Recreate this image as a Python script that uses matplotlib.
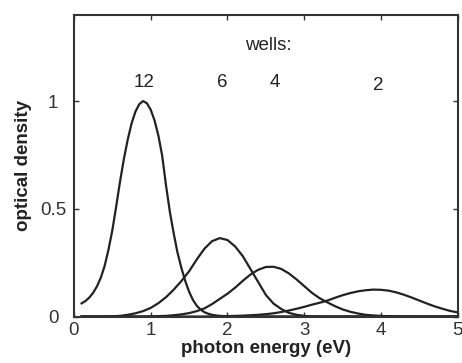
import matplotlib
matplotlib.use("Agg")
import matplotlib.pyplot as plt

plt.rcParams['font.family'] = ['Liberation Sans', 'DejaVu Sans']

# photon energy grid for the 12-well curve (eV)
energy_12 = [0.10, 0.15, 0.20, 0.25, 0.30, 0.35, 0.40, 0.45, 0.50, 0.55,
             0.60, 0.65, 0.70, 0.75, 0.80, 0.85, 0.90, 0.95, 1.00, 1.05,
             1.10, 1.15, 1.20, 1.25, 1.30, 1.35, 1.40, 1.45, 1.50, 1.55,
             1.60, 1.65, 1.70, 1.75, 1.80, 1.85, 1.90, 1.95, 2.00, 5.00]
od_12 = [0.061, 0.072, 0.088, 0.11, 0.14, 0.18, 0.235, 0.31, 0.40, 0.51,
         0.625, 0.73, 0.82, 0.895, 0.95, 0.985, 1.0, 0.99, 0.96, 0.91,
         0.84, 0.745, 0.607, 0.485, 0.385, 0.295, 0.225, 0.165, 0.115, 0.077,
         0.05, 0.032, 0.02, 0.013, 0.008, 0.005, 0.003, 0.002, 0.001, 0.0]

# photon energy grid for the other curves (eV)
energy = [0.1, 0.2, 0.3, 0.4, 0.5, 0.6, 0.7, 0.8, 0.9, 1.0,
          1.1, 1.2, 1.3, 1.4, 1.5, 1.6, 1.7, 1.8, 1.9, 2.0,
          2.1, 2.2, 2.3, 2.4, 2.5, 2.6, 2.7, 2.8, 2.9, 3.0,
          3.1, 3.2, 3.3, 3.4, 3.5, 3.6, 3.7, 3.8, 3.9, 4.0,
          4.1, 4.2, 4.3, 4.4, 4.5, 4.6, 4.7, 4.8, 4.9, 5.0]

od_6 = [0, 0, 0, 0, 0.001, 0.003, 0.008, 0.015, 0.025, 0.04,
        0.062, 0.09, 0.125, 0.165, 0.21, 0.265, 0.315, 0.35, 0.364, 0.355,
        0.325, 0.28, 0.22, 0.16, 0.10, 0.06, 0.035, 0.017, 0.008, 0.003,
        0.001, 0, 0, 0, 0, 0, 0, 0, 0, 0,
        0, 0, 0, 0, 0, 0, 0, 0, 0, 0]

od_4 = [0, 0, 0, 0, 0, 0, 0, 0, 0, 0.001,
        0.002, 0.003, 0.006, 0.01, 0.016, 0.025, 0.038, 0.058, 0.082, 0.106,
        0.134, 0.166, 0.195, 0.217, 0.230, 0.231, 0.221, 0.200, 0.172, 0.141,
        0.11, 0.085, 0.066, 0.048, 0.033, 0.022, 0.014, 0.008, 0.005, 0.003,
        0.001, 0, 0, 0, 0, 0, 0, 0, 0, 0]

od_2 = [0, 0, 0, 0, 0, 0, 0, 0, 0, 0,
        0, 0, 0, 0, 0, 0, 0, 0.001, 0.001, 0.002,
        0.003, 0.004, 0.006, 0.008, 0.011, 0.015, 0.021, 0.028, 0.036, 0.045,
        0.055, 0.064, 0.074, 0.087, 0.099, 0.109, 0.117, 0.122, 0.125, 0.124,
        0.12, 0.112, 0.101, 0.088, 0.074, 0.06, 0.047, 0.036, 0.026, 0.019]

well_labels = ["12", "6", "4", "2"]
label_x = [0.91, 1.93, 2.61, 3.96]
label_y = [1.086, 1.086, 1.086, 1.07]

fig = plt.figure(figsize=(4.62, 3.63), dpi=100)
ax = fig.add_axes([0.160, 0.128, 0.831, 0.831])

line_color = "#222222"
ax.plot(energy_12, od_12, color=line_color, lw=1.6, solid_joinstyle="round")
for series in (od_6, od_4, od_2):
    ax.plot(energy, series, color=line_color, lw=1.6, solid_joinstyle="round")

fs = 13.5
for lab, lx, ly in zip(well_labels, label_x, label_y):
    ax.text(lx, ly, lab, ha="center", va="center", fontsize=fs, color="#222222")
ax.text(2.53, 1.26, "wells:", ha="center", va="center", fontsize=fs, color="#222222")

ax.set_xlim(0, 5)
ax.set_ylim(0, 1.4)
ax.set_xticks([0, 1, 2, 3, 4, 5])
ax.set_xticklabels(["0", "1", "2", "3", "4", "5"])
ax.set_yticks([0, 0.5, 1])
ax.set_yticklabels(["0", "0.5", "1"])
ax.tick_params(direction="in", top=True, right=True, length=3.5, width=1,
               labelsize=fs, colors="#333333", labelcolor="#333333", pad=4)
ax.tick_params(axis="y", pad=15)
for lbl in ax.get_yticklabels():
    lbl.set_horizontalalignment("center")
for sp in ax.spines.values():
    sp.set_linewidth(1.5)
    sp.set_color("#333333")

ax.set_xlabel("photon energy (eV)", fontsize=fs, fontweight="bold", color="#222222", labelpad=1)
ax.set_ylabel("optical density", fontsize=fs, fontweight="bold", color="#222222", labelpad=6)

fig.savefig("out.png", dpi=100)
